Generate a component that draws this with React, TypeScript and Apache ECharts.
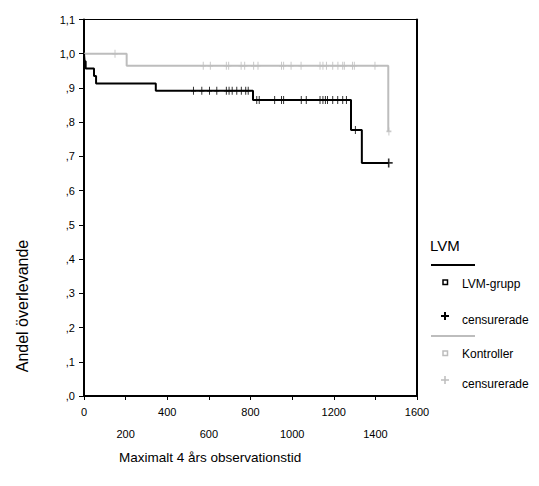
import React, { useEffect, useRef } from "react";
import * as echarts from "echarts";

// Tick labels
const X_TICK_LABELS = ["0", "200", "400", "600", "800", "1000", "1200", "1400", "1600"];
const Y_TICK_LABELS = [",0", ",1", ",2", ",3", ",4", ",5", ",6", ",7", ",8", ",9", "1,0", "1,1"];

// LVM-grupp: event times and survival after each event
const LVM_TIMES = [0, 3, 8, 48, 58, 345, 812, 1283, 1335];
const LVM_SURV = [1, 0.978, 0.957, 0.935, 0.913, 0.892, 0.865, 0.777, 0.681];
const LVM_END = 1464;
const LVM_CENSORED = [526, 566, 603, 638, 684, 697, 712, 734, 756, 777, 789, 830, 842, 916, 949, 959, 1044, 1068, 1134, 1148, 1160, 1170, 1195, 1219, 1243, 1261, 1304];
const LVM_LAST_CENSOR = 1464;

// Kontroller
const KON_TIMES = [0, 205, 1462];
const KON_SURV = [1, 0.965, 0.773];
const KON_END = 1465;
const KON_CENSORED = [149, 573, 607, 684, 695, 755, 772, 815, 836, 949, 959, 995, 1043, 1134, 1148, 1165, 1195, 1220, 1243, 1251, 1290, 1299, 1398, 1465];

const FONT = "'Liberation Sans', Arial, sans-serif";
const GRAY = "#bdbdbd";
const PLUS = "path://M4,0H6V4H10V6H6V10H4V6H0V4H4Z";

function survAt(times: number[], surv: number[], t: number) {
  let s = surv[0];
  for (let i = 0; i < times.length; i++) if (times[i] <= t) s = surv[i];
  return s;
}
function stepData(times: number[], surv: number[], end: number) {
  const d = times.map((t, i) => [t, surv[i]]);
  d.push([end, surv[surv.length - 1]]);
  return d;
}

export default function App() {
  const ref = useRef<HTMLDivElement>(null);
  useEffect(() => {
    const chart = echarts.init(ref.current!, null, { renderer: "svg" });
    const legendTextStyle = { fill: "#000", fontSize: 12, fontFamily: FONT, verticalAlign: "middle" };
    chart.setOption({
      animation: false,
      backgroundColor: "#fff",
      grid: { left: 84, right: 122, top: 19.5, bottom: 90, show: true, borderColor: "#000", borderWidth: 1, backgroundColor: "transparent" },
      xAxis: {
        type: "value", min: 0, max: 1600, interval: 200,
        axisLine: { show: true, lineStyle: { color: "#000", width: 2 } },
        axisTick: { show: true, length: 4, lineStyle: { color: "#000", width: 1 } },
        splitLine: { show: false },
        axisLabel: {
          color: "#000", fontSize: 11, fontFamily: FONT, margin: 5, lineHeight: 22,
          formatter: (v: number) => {
            const i = Math.round(v / 200);
            return i % 2 === 1 ? "\n" + X_TICK_LABELS[i] : X_TICK_LABELS[i];
          },
        },
      },
      yAxis: [
        {
          type: "value", min: 0, max: 1.1, interval: 0.1,
          axisLine: { show: true, lineStyle: { color: "#000", width: 2 } },
          axisTick: { show: true, length: 5, lineStyle: { color: "#000", width: 1 } },
          splitLine: { show: false },
          axisLabel: {
            color: "#000", fontSize: 11, fontFamily: FONT, margin: 9,
            formatter: (v: number) => Y_TICK_LABELS[Math.round(v * 10)],
          },
        },
        {
          type: "value", min: 0, max: 1.1, interval: 0.1, position: "right",
          axisLine: { show: true, lineStyle: { color: "#000", width: 2 } },
          axisTick: { show: false }, axisLabel: { show: false }, splitLine: { show: false },
        },
      ],
      series: [
        {
          type: "line", step: "end", showSymbol: false, symbol: "none",
          data: stepData(KON_TIMES, KON_SURV, KON_END),
          lineStyle: { color: GRAY, width: 2 }, z: 2,
        },
        {
          type: "scatter", symbol: PLUS, symbolSize: [5, 8], symbolKeepAspect: false,
          data: KON_CENSORED.map((t) => [t, survAt(KON_TIMES, KON_SURV, t)]),
          itemStyle: { color: GRAY }, z: 3,
        },
        {
          type: "line", step: "end", showSymbol: false, symbol: "none",
          data: stepData(LVM_TIMES, LVM_SURV, LVM_END),
          lineStyle: { color: "#000", width: 2 }, z: 4,
        },
        {
          type: "scatter", symbol: PLUS, symbolSize: [5, 8], symbolKeepAspect: false,
          data: LVM_CENSORED.map((t) => [t, survAt(LVM_TIMES, LVM_SURV, t)]),
          itemStyle: { color: "#000" }, z: 5,
        },
        {
          type: "scatter", symbol: PLUS, symbolSize: [8, 9], symbolKeepAspect: false,
          data: [[LVM_LAST_CENSOR, survAt(LVM_TIMES, LVM_SURV, LVM_LAST_CENSOR)]],
          itemStyle: { color: "#000" }, z: 5,
        },
      ],
      graphic: [
        { type: "text", x: 22, y: 306, rotation: Math.PI / 2, style: { text: "Andel överlevande", fill: "#000", fontSize: 16, fontFamily: FONT, align: "center", verticalAlign: "middle" } },
        { type: "text", x: 119, y: 457, style: { text: "Maximalt 4 års observationstid", fill: "#000", fontSize: 13.5, fontFamily: FONT, align: "left", verticalAlign: "middle" } },
        { type: "text", x: 430, y: 245, style: { text: "LVM", fill: "#000", fontSize: 15, fontFamily: FONT, verticalAlign: "middle" } },
        { type: "line", shape: { x1: 431, y1: 265, x2: 475, y2: 265 }, style: { stroke: "#000", lineWidth: 2 } },
        { type: "rect", shape: { x: 443, y: 280, width: 4.5, height: 4.5 }, style: { fill: "#fff", stroke: "#000", lineWidth: 1.5 } },
        { type: "text", x: 462, y: 284, style: { text: "LVM-grupp", ...legendTextStyle } },
        { type: "line", shape: { x1: 441, y1: 316, x2: 449, y2: 316 }, style: { stroke: "#000", lineWidth: 2 } },
        { type: "line", shape: { x1: 445, y1: 312, x2: 445, y2: 320 }, style: { stroke: "#000", lineWidth: 2 } },
        { type: "text", x: 462, y: 320, style: { text: "censurerade", ...legendTextStyle } },
        { type: "line", shape: { x1: 431, y1: 336, x2: 475, y2: 336 }, style: { stroke: GRAY, lineWidth: 2 } },
        { type: "rect", shape: { x: 443, y: 351, width: 4.5, height: 4.5 }, style: { fill: "#fff", stroke: GRAY, lineWidth: 1.5 } },
        { type: "text", x: 462, y: 354, style: { text: "Kontroller", ...legendTextStyle } },
        { type: "line", shape: { x1: 441, y1: 380, x2: 449, y2: 380 }, style: { stroke: GRAY, lineWidth: 1.5 } },
        { type: "line", shape: { x1: 445, y1: 376, x2: 445, y2: 384 }, style: { stroke: GRAY, lineWidth: 1.5 } },
        { type: "text", x: 462, y: 384, style: { text: "censurerade", ...legendTextStyle } },
      ],
    });
    return () => chart.dispose();
  }, []);
  return <div ref={ref} style={{ position: "fixed", left: 0, top: 0, width: 539, height: 486, background: "#fff" }} />;
}
